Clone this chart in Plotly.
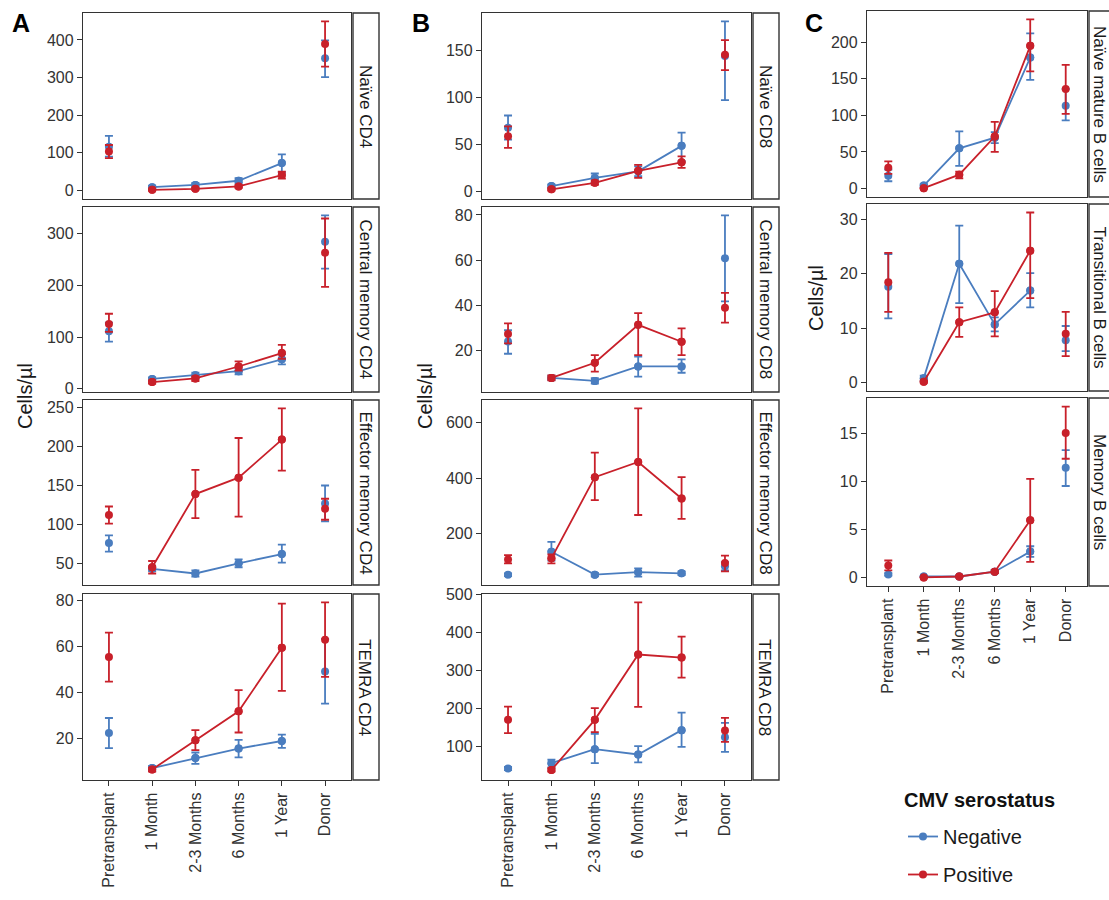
import plotly.graph_objects as go

W, H = 1109, 900
FONT = "Liberation Sans, Arial, Helvetica, sans-serif"
BLUE = "#4A7DBF"
RED = "#C8202A"
INK = "#333333"

categories = ["Pretransplant", "1 Month", "2-3 Months", "6 Months", "1 Year", "Donor"]
line_idx = [1, 2, 3, 4]  # time points joined by lines

# ---- A: CD4 subsets ----
naive_cd4_neg = [116, 9, 15, 26, 73, 351]
naive_cd4_neg_lo = [90, 5, 10, 20, 48, 301]
naive_cd4_neg_hi = [145, 13, 20, 33, 96, 399]
naive_cd4_pos = [104, 2, 4.5, 11, 41, 389]
naive_cd4_pos_lo = [86, 0, 2, 7, 32, 329]
naive_cd4_pos_hi = [121, 5, 7, 15, 50, 449]

cm_cd4_neg = [111, 19, 26, 34, 57, 284]
cm_cd4_neg_lo = [91, 15, 20, 28, 47, 232]
cm_cd4_neg_hi = [128, 22, 31, 40, 67, 335]
cm_cd4_pos = [125, 13, 20, 43, 69, 263]
cm_cd4_pos_lo = [110, 10, 15, 35, 58, 197]
cm_cd4_pos_hi = [145, 16, 24, 53, 85, 329]

em_cd4_neg = [76, 43, 37, 50, 62, 127]
em_cd4_neg_lo = [65, 40, 33, 45, 51, 104]
em_cd4_neg_hi = [86, 46, 41, 55, 74, 150]
em_cd4_pos = [112, 45, 139, 160, 209, 120]
em_cd4_pos_lo = [101, 37, 108, 110, 169, 106]
em_cd4_pos_hi = [123, 53, 170, 211, 249, 133]

temra_cd4_neg = [22.3, 7, 11.4, 15.5, 18.8, 49.1]
temra_cd4_neg_lo = [15.7, 5.8, 8.8, 11.7, 15.8, 35.1]
temra_cd4_neg_hi = [28.8, 8, 13.8, 19.3, 21.6, 63.2]
temra_cd4_pos = [55.4, 6.4, 19.1, 31.7, 59.4, 62.9]
temra_cd4_pos_lo = [44.6, 5.5, 14.8, 22.5, 40.6, 46.7]
temra_cd4_pos_hi = [66, 7.2, 23.5, 40.9, 78.6, 79.1]

# ---- B: CD8 subsets ----
naive_cd8_neg = [67.6, 5.3, 14, 21, 48.2, 144]
naive_cd8_neg_lo = [55, 3.5, 9.9, 15.8, 32, 97]
naive_cd8_neg_hi = [80.6, 7, 18.7, 26.4, 62.3, 181]
naive_cd8_pos = [58.5, 1.8, 8.8, 21.5, 30.6, 145.4]
naive_cd8_pos_lo = [46, 0.5, 6.5, 14, 24.6, 129]
naive_cd8_pos_hi = [69, 3, 11, 27.8, 37, 161]

cm_cd8_neg = [24, 7.9, 6.6, 13.0, 13.0, 60.9]
cm_cd8_neg_lo = [18.6, 6.9, 5.4, 8.5, 10.2, 41.8]
cm_cd8_neg_hi = [29, 8.9, 7.8, 17.3, 16.1, 79.8]
cm_cd8_pos = [27.3, 7.9, 14.6, 31.4, 23.9, 38.9]
cm_cd8_pos_lo = [23.2, 6.8, 10.7, 18.0, 18.0, 32.4]
cm_cd8_pos_hi = [32, 9.0, 18.0, 36.6, 29.8, 45.5]

em_cd8_neg = [50, 133, 50, 59, 55, 80]
em_cd8_neg_lo = [45, 101, 44, 43, 48, 65]
em_cd8_neg_hi = [55, 169, 56, 73, 62, 95]
em_cd8_pos = [105, 109, 403, 458, 326, 92]
em_cd8_pos_lo = [91, 91, 320, 266, 252, 62]
em_cd8_pos_hi = [121, 123, 492, 652, 403, 119]

temra_cd8_neg = [41, 55, 92, 78, 142, 123]
temra_cd8_neg_lo = [37, 44, 55, 57, 98, 85]
temra_cd8_neg_hi = [45, 64, 132, 100, 188, 161]
temra_cd8_pos = [169, 37, 169, 341, 333, 141]
temra_cd8_pos_lo = [134, 33, 137, 203, 280, 111]
temra_cd8_pos_hi = [204, 42, 200, 478, 388, 174]

# ---- C: B cell subsets ----
naive_b_neg = [17.6, 4, 55, 69.5, 179, 113]
naive_b_neg_lo = [10, 2, 31, 62, 148.5, 93]
naive_b_neg_hi = [26, 6, 78, 77, 212, 136]
naive_b_pos = [28.4, 0.5, 19, 71, 195, 136]
naive_b_pos_lo = [20, 0, 14, 50, 160, 102]
naive_b_pos_hi = [37, 1, 23, 91, 231, 169]

trans_b_neg = [17.6, 0.85, 21.8, 10.7, 16.9, 7.8]
trans_b_neg_lo = [11.8, 0.3, 14.6, 9.4, 13.8, 5.8]
trans_b_neg_hi = [23.6, 1.3, 28.8, 12.0, 20.1, 10.4]
trans_b_pos = [18.4, 0.2, 11.1, 12.9, 24.2, 9.0]
trans_b_pos_lo = [13, 0.05, 8.4, 8.5, 15.5, 4.9]
trans_b_pos_hi = [23.8, 0.4, 13.8, 16.8, 31.2, 13]

mem_b_neg = [0.3, 0.1, 0.1, 0.6, 2.7, 11.46]
mem_b_neg_lo = [0.2, 0.05, 0.05, 0.45, 2.15, 9.55]
mem_b_neg_hi = [0.45, 0.15, 0.15, 0.75, 3.26, 13.3]
mem_b_pos = [1.25, 0.0, 0.1, 0.6, 5.97, 15.1]
mem_b_pos_lo = [0.73, 0.0, 0.05, 0.45, 1.63, 12.4]
mem_b_pos_hi = [1.77, 0.05, 0.15, 0.75, 10.3, 17.85]

panels = [
    ("Naïve CD4", "A", 0, 100, naive_cd4_neg, naive_cd4_neg_lo, naive_cd4_neg_hi, naive_cd4_pos, naive_cd4_pos_lo, naive_cd4_pos_hi),
    ("Central memory CD4", "A", 1, 100, cm_cd4_neg, cm_cd4_neg_lo, cm_cd4_neg_hi, cm_cd4_pos, cm_cd4_pos_lo, cm_cd4_pos_hi),
    ("Effector memory CD4", "A", 2, 50, em_cd4_neg, em_cd4_neg_lo, em_cd4_neg_hi, em_cd4_pos, em_cd4_pos_lo, em_cd4_pos_hi),
    ("TEMRA CD4", "A", 3, 20, temra_cd4_neg, temra_cd4_neg_lo, temra_cd4_neg_hi, temra_cd4_pos, temra_cd4_pos_lo, temra_cd4_pos_hi),
    ("Naïve CD8", "B", 0, 50, naive_cd8_neg, naive_cd8_neg_lo, naive_cd8_neg_hi, naive_cd8_pos, naive_cd8_pos_lo, naive_cd8_pos_hi),
    ("Central memory CD8", "B", 1, 20, cm_cd8_neg, cm_cd8_neg_lo, cm_cd8_neg_hi, cm_cd8_pos, cm_cd8_pos_lo, cm_cd8_pos_hi),
    ("Effector memory CD8", "B", 2, 200, em_cd8_neg, em_cd8_neg_lo, em_cd8_neg_hi, em_cd8_pos, em_cd8_pos_lo, em_cd8_pos_hi),
    ("TEMRA CD8", "B", 3, 100, temra_cd8_neg, temra_cd8_neg_lo, temra_cd8_neg_hi, temra_cd8_pos, temra_cd8_pos_lo, temra_cd8_pos_hi),
    ("Naïve mature B cells", "C", 0, 50, naive_b_neg, naive_b_neg_lo, naive_b_neg_hi, naive_b_pos, naive_b_pos_lo, naive_b_pos_hi),
    ("Transitional B cells", "C", 1, 10, trans_b_neg, trans_b_neg_lo, trans_b_neg_hi, trans_b_pos, trans_b_pos_lo, trans_b_pos_hi),
    ("Memory B cells", "C", 2, 5, mem_b_neg, mem_b_neg_lo, mem_b_neg_hi, mem_b_pos, mem_b_pos_lo, mem_b_pos_hi),
]

# ---- layout geometry (window pixels; the page margin is removed below) ----
col_x = {"A": (83, 351), "B": (482, 751), "C": (867, 1087)}
strip_x = {"A": (353, 379), "B": (753, 779), "C": (1089, 1115)}
strip_text_x = {"A": 365, "B": 765, "C": 1099}
rows = {"A": [(13, 199), (207, 392), (400, 585), (594, 780)],
        "B": [(13, 199), (207, 392), (400, 585), (594, 780)],
        "C": [(11, 197), (204, 391), (398, 586)]}
ytitle_pos = {"A": (25, 396), "B": (425, 396), "C": (816, 298)}
letter_pos = {"A": (21, 23), "B": (421, 23), "C": (814, 23)}


def px_x(x):
    return x / W


def px_y(y):
    return 1 - y / H


fig = go.Figure()
layout = dict(
    width=W, height=H,
    margin=dict(l=0, r=0, t=0, b=0, autoexpand=False),
    paper_bgcolor="white", plot_bgcolor="white",
    font=dict(family=FONT, color=INK),
    shapes=[], annotations=[],
)

for i, (name, col, r, dtick, neg, neg_lo, neg_hi, pos, pos_lo, pos_hi) in enumerate(panels):
    k = i + 1
    xa = "x" if k == 1 else f"x{k}"
    ya = "y" if k == 1 else f"y{k}"
    x0, x1 = col_x[col]
    y0, y1 = rows[col][r]
    bottom = r == len(rows[col]) - 1

    lo_all = min(neg_lo + pos_lo)
    hi_all = max(neg_hi + pos_hi)
    pad = 0.05 * (hi_all - lo_all)

    layout["xaxis" if k == 1 else f"xaxis{k}"] = dict(
        domain=[px_x(x0), min(1, px_x(x1))], anchor=ya, automargin=False,
        type="category", categoryorder="array", categoryarray=categories,
        range=[-0.6, 5.6],
        showline=True, mirror=True, linecolor=INK, linewidth=1.4,
        showgrid=False, zeroline=False,
        ticks="outside" if bottom else "", ticklen=5, tickwidth=1.2, tickcolor=INK,
        showticklabels=bottom, tickangle=-90,
        tickfont=dict(family=FONT, size=16, color=INK),
        fixedrange=True,
    )
    layout["yaxis" if k == 1 else f"yaxis{k}"] = dict(
        domain=[px_y(y1), px_y(y0)], anchor=xa, automargin=False,
        range=[lo_all - pad, hi_all + pad],
        dtick=dtick, tick0=0,
        showline=True, mirror=True, linecolor=INK, linewidth=1.4,
        showgrid=False, zeroline=False,
        ticks="outside", ticklen=5, tickwidth=1.2, tickcolor=INK,
        tickfont=dict(family=FONT, size=16, color=INK),
        fixedrange=True,
    )

    for label, color, m, lo, hi in (("Negative", BLUE, neg, neg_lo, neg_hi),
                                    ("Positive", RED, pos, pos_lo, pos_hi)):
        fig.add_trace(go.Scatter(
            x=[categories[j] for j in line_idx], y=[m[j] for j in line_idx],
            mode="lines+markers", xaxis=xa, yaxis=ya,
            line=dict(color=color, width=1.8),
            marker=dict(color=color, size=8),
            name=label, legendgroup=label, showlegend=(k == 1),
            hoverinfo="skip",
        ))
        fig.add_trace(go.Scatter(
            x=categories, y=m, mode="markers", xaxis=xa, yaxis=ya,
            marker=dict(color=color, size=8),
            error_y=dict(type="data", symmetric=False,
                         array=[h - v for h, v in zip(hi, m)],
                         arrayminus=[v - l for v, l in zip(m, lo)],
                         color=color, thickness=1.8, width=4),
            name=label, legendgroup=label, showlegend=False,
        ))

    # facet strip
    sx0, sx1 = strip_x[col]
    layout["shapes"].append(dict(
        type="rect", xref="paper", yref="paper",
        x0=px_x(sx0), x1=px_x(sx1), y0=px_y(y1), y1=px_y(y0),
        line=dict(color=INK, width=1.4), fillcolor="white", layer="below",
    ))
    layout["annotations"].append(dict(
        text=name, xref="paper", yref="paper",
        x=px_x(strip_text_x[col]), y=px_y((y0 + y1) / 2),
        xanchor="center", yanchor="middle", textangle=90, showarrow=False,
        font=dict(family=FONT, size=17, color="#1a1a1a"),
    ))

for col in ("A", "B", "C"):
    tx, ty = ytitle_pos[col]
    layout["annotations"].append(dict(
        text="Cells/µl", xref="paper", yref="paper", x=px_x(tx), y=px_y(ty),
        xanchor="center", yanchor="middle", textangle=-90, showarrow=False,
        font=dict(family=FONT, size=20, color="#1a1a1a"),
    ))
    lx, ly = letter_pos[col]
    layout["annotations"].append(dict(
        text=f"<b>{col}</b>", xref="paper", yref="paper", x=px_x(lx), y=px_y(ly),
        xanchor="center", yanchor="middle", showarrow=False,
        font=dict(family=FONT, size=25, color="black"),
    ))

# legend title as text, legend entries from the traces
layout["annotations"].append(dict(
    text="<b>CMV serostatus</b>", xref="paper", yref="paper",
    x=px_x(902), y=px_y(800), xanchor="left", yanchor="middle", showarrow=False,
    font=dict(family=FONT, size=20, color="#111"),
))
layout["legend"] = dict(
    x=px_x(903), y=px_y(817), xanchor="left", yanchor="top",
    font=dict(family=FONT, size=20, color="#1a1a1a"),
    tracegroupgap=9, bgcolor="rgba(0,0,0,0)", borderwidth=0,
)

fig.update_layout(**layout)
fig.write_html(
    "out.html",
    config={"displayModeBar": False},
    post_script="document.body.style.margin='0';"
                "document.documentElement.style.overflow='hidden';",
)
